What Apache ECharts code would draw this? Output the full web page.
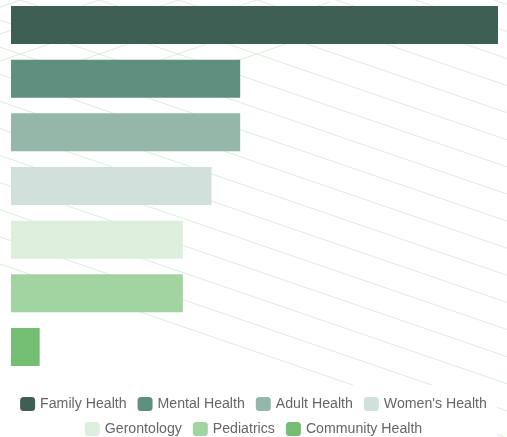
<!DOCTYPE html>
<html>
<head>
    <meta charset="utf-8">
    <script src="https://cdn.jsdelivr.net/npm/echarts@6/dist/echarts.min.js"></script>
    <style>
        html, body { margin: 0; padding: 0; background: #fff; }
        #container { width: 507px; height: 437px; }
    </style>
</head>
<body>
<div id="container"></div>
<script>
    // data
    let categories = ['Family Health', 'Mental Health', 'Adult Health', "Women's Health",
        'Gerontology', 'Pediatrics', 'Community Health'];
    let values = [17, 8, 8, 7, 6, 6, 1];
    let colors = ['#3e5f53', '#5f8f7f', '#94b7aa', '#d2e0dc', '#dcefdc', '#a2d4a1', '#73be73'];
    let legendRow1 = categories.slice(0, 4);
    let legendRow2 = categories.slice(4);

    // background hatching (decoration only)
    function makeBackground() {
        let c = document.createElement('canvas');
        c.width = 507;
        c.height = 437;
        let ctx = c.getContext('2d');
        ctx.strokeStyle = '#dbeedb';
        ctx.lineWidth = 1;
        let s = 0.343;
        for (let k = 0; k <= 17; k++) {
            let b = 264 - 27.1 * k;
            ctx.beginPath();
            ctx.moveTo(0, b);
            ctx.lineTo(507, b + s * 507);
            ctx.stroke();
        }
        // crossing lines near the top left
        ctx.save();
        ctx.beginPath();
        ctx.rect(0, 0, 330, 62);
        ctx.clip();
        for (let j = 0; j < 6; j++) {
            let cc = 7 + 27 * j;
            ctx.beginPath();
            ctx.moveTo(0, cc);
            ctx.lineTo(507, cc - s * 507);
            ctx.stroke();
        }
        ctx.restore();
        return c;
    }

    let series = categories.map(function (name, i) {
        let data = categories.map(function (_, j) { return j === i ? values[i] : '-'; });
        return {
            name: name,
            type: 'bar',
            stack: 'all',
            barWidth: 38,
            data: data,
            itemStyle: { color: colors[i] }
        };
    });

    let legendBase = {
        left: 'center',
        padding: 0,
        itemWidth: 15,
        itemHeight: 14,
        itemGap: 11,
        icon: 'roundRect',
        textStyle: { color: '#666', fontSize: 14.15, fontFamily: 'Liberation Sans, Arial, sans-serif' }
    };

    let myChart = echarts.init(document.getElementById('container'));
    let option = {
        animation: false,
        graphic: [{
            type: 'image',
            left: 0,
            top: 0,
            z: -2,
            silent: true,
            style: { image: makeBackground(), width: 507, height: 437 }
        }, {
            // white panel behind the legend
            type: 'rect',
            left: 5,
            top: 385,
            z: -1,
            silent: true,
            shape: { width: 492, height: 52 },
            style: { fill: '#fff' }
        }],
        grid: {
            left: 11,
            right: 9,
            top: 25,
            bottom: 90
        },
        xAxis: {
            type: 'value',
            max: 'dataMax',
            show: false
        },
        yAxis: {
            type: 'category',
            data: categories,
            inverse: true,
            boundaryGap: false,
            show: false
        },
        legend: [
            Object.assign({}, legendBase, { top: 397, data: legendRow1 }),
            Object.assign({}, legendBase, { top: 422, data: legendRow2 })
        ],
        series: series
    };
    myChart.setOption(option);
</script>
</body>
</html>
